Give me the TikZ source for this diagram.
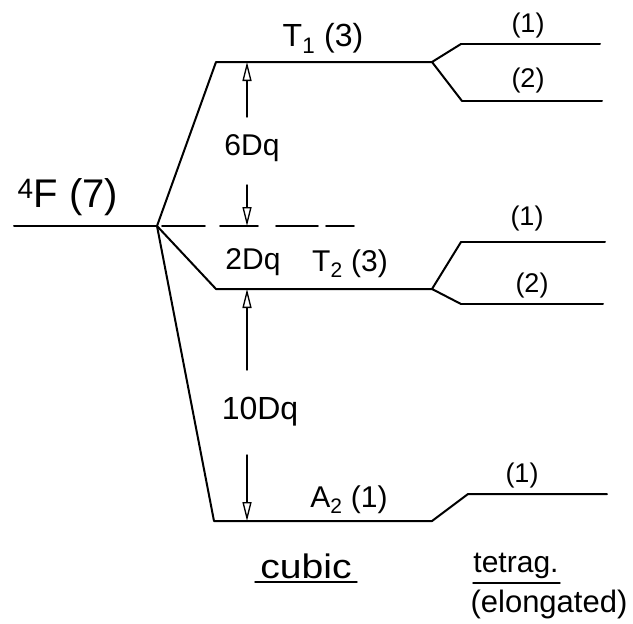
\documentclass[tikz,border=0pt]{standalone}
\usepackage{fontspec}
\setmainfont{Liberation Sans}
\usetikzlibrary{arrows.meta}
\begin{document}
\begin{tikzpicture}[x=1pt,y=-1pt,line width=2pt,line cap=round,line join=round,
  lbl/.style={inner sep=0pt,font=\fontsize{30}{34}\selectfont},
  small/.style={inner sep=0pt,font=\fontsize{27}{30}\selectfont},
  gaparrow/.style={line width=1.4pt,-{Triangle[open,length=19pt,width=9pt,line width=1.3pt]}},
  ulined/.style={line width=1.4pt},
  dashseg/.style={line width=1.6pt}]
\useasboundingbox (0,0) rectangle (633,624);
% levels
\coordinate (F0) at (14,226);
\coordinate (F) at (157,226);
\coordinate (T1a) at (216,62);  \coordinate (T1b) at (432,62);
\coordinate (T2a) at (216,289); \coordinate (T2b) at (432,289);
\coordinate (A2a) at (214,521); \coordinate (A2b) at (432,521);
\coordinate (T1u) at (461,44);  \coordinate (T1ue) at (600,44);
\coordinate (T1l) at (462,101); \coordinate (T1le) at (602,101);
\coordinate (T2u) at (461,242); \coordinate (T2ue) at (605,242);
\coordinate (T2l) at (461,304); \coordinate (T2le) at (603,304);
\coordinate (A2u) at (468,494); \coordinate (A2ue) at (607,494);
\draw (F0) -- (F);
\draw (F) -- (T1a) -- (T1b);
\draw (F) -- (T2a) -- (T2b);
\draw (F) -- (A2a) -- (A2b);
\draw (T1u) -- (T1b) -- (T1l);
\draw (T1u) -- (T1ue); \draw (T1l) -- (T1le);
\draw (T2u) -- (T2b) -- (T2l);
\draw (T2u) -- (T2ue); \draw (T2l) -- (T2le);
\draw (A2b) -- (A2u) -- (A2ue);
% dashed barycentre line
\coordinate (Da0) at (162,226); \coordinate (Da1) at (205,226);
\coordinate (Db0) at (220,226); \coordinate (Db1) at (258,226);
\coordinate (Dc0) at (276,226); \coordinate (Dc1) at (318,226);
\coordinate (Dd0) at (326,226); \coordinate (Dd1) at (354,226);
\draw[dashseg] (Da0) -- (Da1);
\draw[dashseg] (Db0) -- (Db1);
\draw[dashseg] (Dc0) -- (Dc1);
\draw[dashseg] (Dd0) -- (Dd1);
% gap arrows
\coordinate (G1t) at (247,62);  \coordinate (G1s) at (247,117);
\coordinate (G1b) at (247,226); \coordinate (G1r) at (247,185);
\coordinate (G2t) at (247,289); \coordinate (G2s) at (247,370);
\coordinate (G2b) at (247,521); \coordinate (G2r) at (247,455);
\draw[gaparrow] (G1s) -- (G1t);
\draw[gaparrow] (G1r) -- (G1b);
\draw[gaparrow] (G2s) -- (G2t);
\draw[gaparrow] (G2r) -- (G2b);
% labels
\node[lbl,font=\fontsize{40}{44}\selectfont] (lF) at (68,197) {\textsuperscript{4}F (7)};
\node[lbl,font=\fontsize{32}{36}\selectfont] (lT1) at (323,38) {T\textsubscript{1} (3)};
\node[lbl] (l6) at (252,148) {6Dq};
\node[lbl] (l2) at (253,262) {2Dq};
\node[lbl] (lT2) at (350,264) {T\textsubscript{2} (3)};
\node[lbl,font=\fontsize{32}{36}\selectfont] (l10) at (260,412) {10Dq};
\node[lbl] (lA2) at (349,500) {A\textsubscript{2} (1)};
\node[small] (s1) at (528,26) {(1)};
\node[small] (s2) at (528,81) {(2)};
\node[small] (s3) at (527,219) {(1)};
\node[small] (s4) at (532,286) {(2)};
\node[small] (s5) at (522,476) {(1)};
\node[lbl,font=\fontsize{34}{38}\selectfont] (lcub) at (306,566) {\scalebox{1.15}[1]{cubic}};
\coordinate (uc0) at (255,582); \coordinate (uc1) at (357,582);
\draw[ulined] (uc0) -- (uc1);
\node[lbl] (ltet) at (516,566) {tetrag.};
\coordinate (ut0) at (473,583); \coordinate (ut1) at (560,583);
\draw[ulined] (ut0) -- (ut1);
\node[lbl,font=\fontsize{31}{35}\selectfont] (lel) at (549,604) {(elongated)};
\end{tikzpicture}
\end{document}
